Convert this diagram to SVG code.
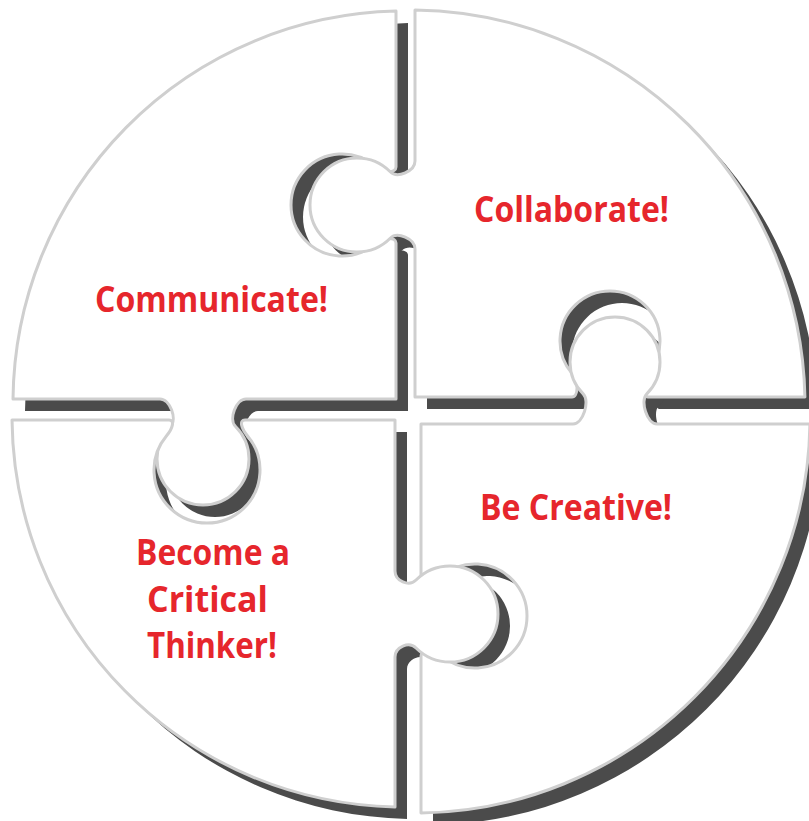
<svg xmlns="http://www.w3.org/2000/svg" xmlns:xlink="http://www.w3.org/1999/xlink" width="809" height="821" viewBox="0 0 809 821">
<style>
.bg{fill:#ffffff}
.shadow{fill:#4b4b4b;stroke:none}
.piece{fill:#ffffff;stroke:#cfcfcf;stroke-width:3;stroke-linejoin:round}
.lbl{font-family:"Open Sans","Noto Sans","Liberation Sans",sans-serif;font-weight:700;font-size:36px;fill:#e6262c;text-anchor:middle}
</style>
<defs>
<path id="d-tl" d="M 13,399 A 392 392 0 0 1 396,11.1 L 396,167 C 396,173 383.98,173.64 374.79,165.93 A 51 51 0 1 0 374.79,244.07 C 383.98,236.36 396,237 396,243 L 396,399 L 246,399 C 236,399 228.46,419.4 235.53,426.47 A 46 46 0 1 1 170.47,426.47 C 177.54,419.4 170,399 160,399 Z"/>
<path id="d-tr" d="M 415,10.03 A 395 395 0 0 1 804.92,397 L 648,397 C 642,397 640.59,382.33 648.3,373.14 A 50 50 0 1 0 571.7,373.14 C 579.41,382.33 578,397 572,397 L 415,397 L 415,249 C 415,239 397.3,231.16 390.23,238.23 A 47 47 0 1 1 390.23,171.77 C 397.3,178.84 415,171 415,161 Z"/>
<path id="d-br" d="M 421,424 L 573,424 C 583,424 590.25,400.89 583.18,393.82 A 45 45 0 1 1 646.82,393.82 C 639.75,400.89 647,424 657,424 L 809.95,424 A 395 395 0 0 1 421,812.95 L 421,656 C 421,650 432.39,648.12 441.58,655.83 A 52 52 0 1 0 441.58,576.17 C 432.39,583.88 421,582 421,576 Z"/>
<path id="d-bl" d="M 12.02,420 L 169,420 C 175,420 172.83,428.27 166.4,435.93 A 53 53 0 1 0 247.6,435.93 C 241.17,428.27 239,420 245,420 L 395,420 L 395,571 C 395,581 408.99,587.13 416.06,580.06 A 48 48 0 1 1 416.06,647.94 C 408.99,640.87 395,647 395,657 L 395,806.92 A 391 391 0 0 1 12.02,420 Z"/>
</defs>
<rect class="bg" x="0" y="0" width="809" height="821"/>
<g id="shadows">
<use xlink:href="#d-tl" href="#d-tl" class="shadow" transform="translate(12 12)"/>
<use xlink:href="#d-tr" href="#d-tr" class="shadow" transform="translate(12 12)"/>
<use xlink:href="#d-br" href="#d-br" class="shadow" transform="translate(12 12)"/>
<use xlink:href="#d-bl" href="#d-bl" class="shadow" transform="translate(12 12)"/>
</g>
<g id="piece-communicate">
<use xlink:href="#d-tl" href="#d-tl" class="piece"/>
<text class="lbl" x="211.5" y="312" textLength="233" lengthAdjust="spacingAndGlyphs">Communicate!</text>
</g>
<g id="piece-collaborate">
<use xlink:href="#d-tr" href="#d-tr" class="piece"/>
<text class="lbl" x="571.5" y="222" textLength="195" lengthAdjust="spacingAndGlyphs">Collaborate!</text>
</g>
<g id="piece-creative">
<use xlink:href="#d-br" href="#d-br" class="piece"/>
<text class="lbl" x="576" y="520" textLength="192" lengthAdjust="spacingAndGlyphs">Be Creative!</text>
</g>
<g id="piece-critical">
<use xlink:href="#d-bl" href="#d-bl" class="piece"/>
<text class="lbl" x="213" y="565" textLength="154" lengthAdjust="spacingAndGlyphs">Become a</text>
<text class="lbl" x="207.5" y="612" textLength="121" lengthAdjust="spacingAndGlyphs">Critical</text>
<text class="lbl" x="212" y="658" textLength="130" lengthAdjust="spacingAndGlyphs">Thinker!</text>
</g>
</svg>
